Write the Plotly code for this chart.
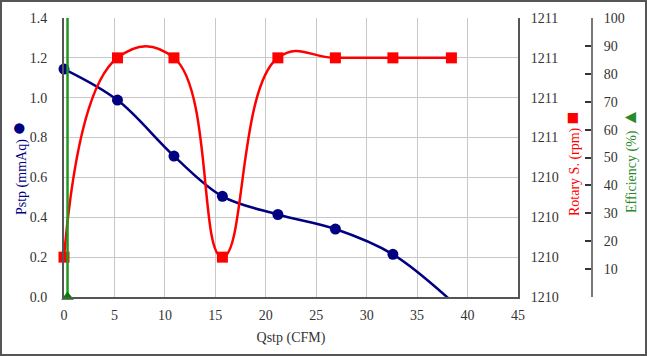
import plotly.graph_objects as go

# ---- data ----
qstp = [0.0, 5.3, 10.9, 15.7, 21.2, 26.9, 32.6, 38.4]
pstp = [1.144, 0.988, 0.707, 0.505, 0.414, 0.341, 0.214, -0.02]
pstp_marked = 7  # last point lies beyond the axis (no visible marker)
rotary = [1210, 1211, 1211, 1210, 1211, 1211, 1211, 1211]
eff_q = [0.35, 0.35]
efficiency = [0, 140]

x_ticks = [0, 5, 10, 15, 20, 25, 30, 35, 40, 45]
p_ticks = [0.0, 0.2, 0.4, 0.6, 0.8, 1.0, 1.2, 1.4]
rpm_tickvals = [1209.8, 1210.0, 1210.2, 1210.4, 1210.6, 1210.8, 1211.0, 1211.2]
rpm_ticktext = ["1210", "1210", "1210", "1210", "1211", "1211", "1211", "1211"]
eff_tickvals = [0, 10, 20, 30, 40, 50, 60, 70, 80, 90, 100]
eff_ticktext = ["", "10", "20", "30", "40", "50", "60", "70", "80", "90", "100"]

FONT = "Liberation Serif, 'Times New Roman', Tinos, 'DejaVu Serif', serif"
NAVY = "#000080"
RED = "#ff0000"
GREEN = "#008000"
AXIS = "#555555"
GRID = "#c8c8c8"
TICKFONT = dict(family=FONT, size=14, color="#333333")

W, H = 647, 356
L, R, T, B = 64, 55, 18, 59
plot_w = W - L - R          # 528 (includes efficiency axis)
plot_h = H - T - B          # 279
main_right = 518
dom_x = (main_right - L) / plot_w


def px_x(p):
    return (p - L) / plot_w


def px_y(p):
    return (H - B - p) / plot_h


fig = go.Figure()

# Pstp line + markers
fig.add_trace(go.Scatter(x=qstp, y=pstp, mode="lines", yaxis="y",
                         line=dict(color=NAVY, width=2.5, shape="spline", smoothing=1.0),
                         showlegend=False, hoverinfo="skip"))
fig.add_trace(go.Scatter(x=qstp[:pstp_marked], y=pstp[:pstp_marked], mode="markers", yaxis="y",
                         marker=dict(color=NAVY, size=11, symbol="circle"), cliponaxis=False,
                         name="Pstp", showlegend=False))

# Rotary speed
fig.add_trace(go.Scatter(x=qstp, y=rotary, mode="lines+markers", yaxis="y2",
                         line=dict(color=RED, width=2.5, shape="spline", smoothing=1.3),
                         marker=dict(color=RED, size=11, symbol="square"), cliponaxis=False,
                         name="Rotary S.", showlegend=False))

# Efficiency
fig.add_trace(go.Scatter(x=eff_q, y=efficiency, mode="lines", yaxis="y3",
                         line=dict(color="#1f9a1f", width=2.5),
                         showlegend=False, hoverinfo="skip"))
fig.add_trace(go.Scatter(x=eff_q[:1], y=efficiency[:1], mode="markers", yaxis="y3",
                         marker=dict(color=GREEN, size=11, symbol="triangle-up"), cliponaxis=False,
                         name="Efficiency", showlegend=False))

fig.update_layout(
    width=W, height=H,
    margin=dict(l=L, r=R, t=T, b=B, pad=0),
    paper_bgcolor="white", plot_bgcolor="white",
    font=dict(family=FONT, size=14, color="#333333"),
    xaxis=dict(domain=[0, dom_x], range=[0, 45], tickvals=x_ticks, tickfont=TICKFONT,
               showgrid=True, gridcolor=GRID, gridwidth=1,
               showline=True, linecolor=AXIS, linewidth=2, zeroline=False,
               ticks="", ticklabelstandoff=4,
               title=dict(text="Qstp (CFM)", font=dict(family=FONT, size=14, color="#333333"),
                          standoff=10)),
    yaxis=dict(range=[0, 1.4], tickvals=p_ticks, tickformat=".1f", tickfont=TICKFONT,
               showgrid=True, gridcolor=GRID, gridwidth=1,
               showline=True, linecolor=AXIS, linewidth=2, zeroline=False,
               ticks="", ticklabelstandoff=12),
    yaxis2=dict(overlaying="y", side="right", anchor="x", range=[1209.8, 1211.2],
                tickvals=rpm_tickvals, ticktext=rpm_ticktext, tickfont=TICKFONT,
                showgrid=False, showline=True, linecolor=AXIS, linewidth=2,
                zeroline=False, ticks="", ticklabelstandoff=8),
    yaxis3=dict(overlaying="y", side="right", anchor="free", position=1.0,
                range=[0, 100], tickvals=eff_tickvals, ticktext=eff_ticktext, tickfont=TICKFONT,
                showgrid=False, showline=True, linecolor="#777777", linewidth=2,
                zeroline=False, ticks="inside", ticklen=6, tickwidth=2, tickcolor="#333333",
                ticklabelstandoff=8),
    shapes=[dict(type="rect", xref="paper", yref="paper",
                 x0=px_x(1), x1=px_x(646), y0=px_y(355), y1=px_y(1),
                 line=dict(color="#555555", width=2), layer="below")],
    annotations=[
        dict(xref="paper", yref="paper", x=px_x(18), y=px_y(168), textangle=-90,
             showarrow=False, xanchor="center", yanchor="middle",
             text='Pstp (mmAq) <span style="font-size:24px">●</span>',
             font=dict(family=FONT, size=14, color=NAVY)),
        dict(xref="paper", yref="paper", x=px_x(572), y=px_y(164), textangle=-90,
             showarrow=False, xanchor="center", yanchor="middle",
             text='Rotary S. (rpm) <span style="font-size:21px">■</span>',
             font=dict(family=FONT, size=14, color=RED)),
        dict(xref="paper", yref="paper", x=px_x(629), y=px_y(161), textangle=-90,
             showarrow=False, xanchor="center", yanchor="middle",
             text='Efficiency (%) <span style="font-size:19px">▲</span>',
             font=dict(family=FONT, size=14, color="#2a8a2a")),
    ],
)

fig.write_html("out.html", config={"displayModeBar": False},
               post_script="document.body.style.margin='0px';")
